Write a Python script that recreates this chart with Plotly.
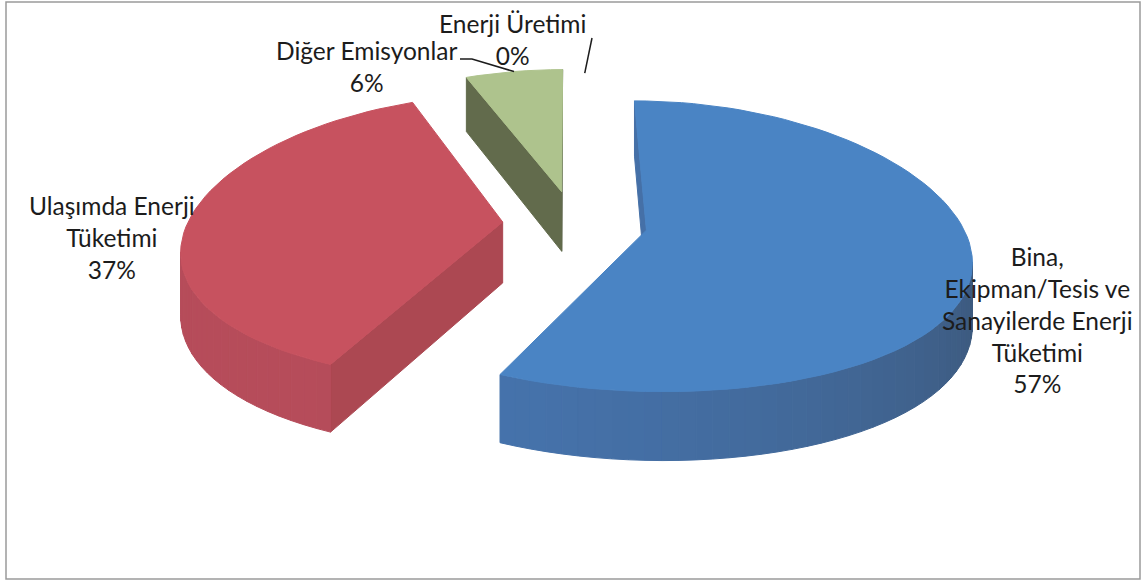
import math
import plotly.graph_objects as go

# ---- data -------------------------------------------------------------
categories = [
    "Bina,<br>Ekipman/Tesis ve<br>Sanayilerde Enerji<br>Tüketimi",
    "Ulaşımda Enerji<br>Tüketimi",
    "Diğer Emisyonlar",
    "Enerji Üretimi",
]
values = [57, 37, 6, 0]

# ---- style ------------------------------------------------------------
W, H_PX = 1141, 581
top_colors = ["#4A84C4", "#C7525F", "#AEC38D", "#4BACC6"]
wall_light = ["#4674AE", "#B64C5A", "#626C4C", "#3F90A6"]
wall_dark = ["#3A5270", "#A8464F", "#4F5840", "#2F6E80"]

CX, CY = 575, 223          # projected pie centre
VX = 568                   # horizontal vanishing position
RX, RY = 315, 142          # ellipse radii of the top face
KX, KY = 0.178, 0.11       # depth foreshortening (horizontal / vertical)
DEPTH = 61                 # thickness of the pie
EXPLODE = 0.23             # explosion, fraction of radius

# label anchor (x, y of first line) and leader polylines
label_pos = [(1037, 258), (112, 207), (366, 52), (512, 25)]
leader_to = [None, None, [(472, 59), (460, 59)], [(592, 38)]]
FONT = "Lato"
FSIZE = 24.5


def proj(u, v, z=0.0):
    sx = 1.0 / (1.0 + KX * v)
    sy = 1.0 / (1.0 + KY * v)
    return VX + (CX - VX + RX * u) * sx, CY - RY * v * sy + DEPTH * z * sy


def mix(c1, c2, t):
    a = [int(c1[i:i + 2], 16) for i in (1, 3, 5)]
    b = [int(c2[i:i + 2], 16) for i in (1, 3, 5)]
    return "#%02x%02x%02x" % tuple(round(a[k] + (b[k] - a[k]) * t) for k in range(3))


fig = go.Figure()
total = sum(values)

slices = []
acc = 0.0
for i, val in enumerate(values):
    a0 = 360.0 * acc / total
    a1 = 360.0 * (acc + val) / total
    acc += val
    mid = math.radians((a0 + a1) / 2)
    ou, ov = EXPLODE * math.sin(mid), EXPLODE * math.cos(mid)
    slices.append((i, a0, a1, ou, ov, mid))

# paint the farthest slices first
for i, a0, a1, ou, ov, mid in sorted(slices, key=lambda s: -s[4]):
    if a1 - a0 <= 0:
        continue
    n = max(2, int((a1 - a0) / 2.5))
    pts = [(ou, ov)]
    for k in range(n + 1):
        t = math.radians(a0 + (a1 - a0) * k / n)
        pts.append((ou + math.sin(t), ov + math.cos(t)))
    pts.append((ou, ov))

    quads = []
    for k in range(len(pts) - 1):
        (u1, v1), (u2, v2) = pts[k], pts[k + 1]
        if abs(u1 - u2) + abs(v1 - v2) < 1e-9:
            continue
        q = [proj(u1, v1, 0), proj(u2, v2, 0), proj(u2, v2, 1), proj(u1, v1, 1)]
        area = sum(q[j][0] * q[(j + 1) % 4][1] - q[(j + 1) % 4][0] * q[j][1] for j in range(4))
        if area >= 0:
            continue
        nu, nv = -(v2 - v1), (u2 - u1)
        phi = math.atan2(nu, nv)
        shade = (1 + math.cos(phi - math.radians(230))) / 2
        quads.append(((v1 + v2) / 2, q, mix(wall_dark[i], wall_light[i], shade)))
    for _, q, col in sorted(quads, key=lambda z: -z[0]):
        xs = [p[0] for p in q] + [q[0][0]]
        ys = [p[1] for p in q] + [q[0][1]]
        fig.add_trace(go.Scatter(x=xs, y=ys, mode="lines", fill="toself",
                                 fillcolor=col, line=dict(color=col, width=1),
                                 hoverinfo="skip", showlegend=False))
    top = [proj(u, v, 0) for u, v in pts]
    fig.add_trace(go.Scatter(x=[p[0] for p in top], y=[p[1] for p in top],
                             mode="lines", fill="toself", fillcolor=top_colors[i],
                             line=dict(color=top_colors[i], width=1),
                             hoverinfo="skip", showlegend=False))

# labels with percentages and leader lines
for i, a0, a1, ou, ov, mid in slices:
    pct = round(100.0 * values[i] / total)
    lx, ly = label_pos[i]
    fig.add_annotation(x=lx, y=ly, xref="x", yref="y", showarrow=False,
                       text=f"{categories[i]}<br>{pct}%", align="center",
                       xanchor="center", yanchor="top", yshift=FSIZE * 0.72,
                       font=dict(family=FONT, size=FSIZE, color="#1c1c1c"))
    if leader_to[i]:
        sx, sy = proj(ou + math.sin(mid), ov + math.cos(mid))
        if values[i] == 0:
            sx += 11
            sy += 4
        path = [(sx, sy)] + leader_to[i]
        fig.add_trace(go.Scatter(x=[p[0] for p in path], y=[p[1] for p in path],
                                 mode="lines", line=dict(color="#1c1c1c", width=1.5),
                                 hoverinfo="skip", showlegend=False))

fig.add_shape(type="rect", xref="x", yref="y", x0=6, y0=2, x1=1140, y1=579,
              line=dict(color="#9a9a9a", width=1.5))

fig.update_layout(
    width=W, height=H_PX, margin=dict(l=0, r=0, t=0, b=0),
    paper_bgcolor="white", plot_bgcolor="white",
    xaxis=dict(range=[0, W], visible=False, fixedrange=True),
    yaxis=dict(range=[H_PX, 0], visible=False, fixedrange=True),
)

fig.write_html("out.html")
